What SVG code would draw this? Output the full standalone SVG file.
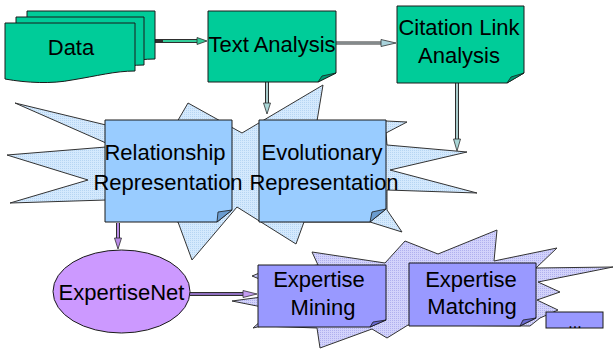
<svg xmlns="http://www.w3.org/2000/svg" width="615" height="349" viewBox="0 0 615 349">
  <defs>
    <pattern id="ditherBlue" width="2" height="2" patternUnits="userSpaceOnUse">
      <rect width="2" height="2" fill="#d4e9fd"/>
      <rect width="1" height="1" fill="#b6d5f3"/>
    </pattern>
    <pattern id="ditherLav" width="2" height="2" patternUnits="userSpaceOnUse">
      <rect width="2" height="2" fill="#d3d3fb"/>
      <rect width="1" height="1" fill="#b0b0ef"/>
    </pattern>
    <style>
      .green { fill: #00cc99; stroke: #1a1a1a; stroke-width: 1; }
      .greenFold { fill: #009a74; stroke: #1a1a1a; stroke-width: 0.8; }
      .blue { fill: #99ccff; stroke: #1a1a1a; stroke-width: 1; }
      .blueFold { fill: #6b9ccf; stroke: #1a1a1a; stroke-width: 0.8; }
      .violet { fill: #9999ff; stroke: #1a1a1a; stroke-width: 1; }
      .violetFold { fill: #6b6bd0; stroke: #1a1a1a; stroke-width: 0.8; }
      .burstBlue { fill: url(#ditherBlue); stroke: #333; stroke-width: 1; }
      .burstLav { fill: url(#ditherLav); stroke: #333; stroke-width: 1; }
      .label { font-family: "Liberation Sans", Arial, sans-serif; font-size: 22px; fill: #000; text-anchor: middle; }
      .shaftOut { stroke: #2e2e2e; stroke-width: 4; fill: none; }
      .head { stroke: #2e2e2e; stroke-width: 0.8; }
    </style>
  </defs>

  <!-- background bursts -->
  <g id="burst-representation">
    <polygon class="burstBlue" points="15,103 106,125 177,125 177,122 188,103 242,133 323,85 317,121 386,121 407,122 386,133 387,145 467,152 390,170 477,193 387,190 387,210 402,232 370,222 304,222 296,244 237,207 192,260 178,222 106,200 10,203 88,180 7,155 106,147 110,145 106,143"/>
  </g>
  <g id="burst-expertise">
    <polygon class="burstLav" points="252,276 262,272 318,265 312,252 385,263 405,241 438,254 497,230 494,261 557,248 536,268 613,267 538,282 560,292 537,300 558,310 540,318 530,326 408,325 387,338 372,329 320,348 317,328 262,326 253,328 262,320 262,307 232,301 262,297 262,280"/>
  </g>

  <!-- connectors -->
  <g id="connectors">
    <!-- Data -> Text Analysis -->
    <line class="shaftOut" x1="155" y1="41" x2="201" y2="41"/>
    <line x1="163" y1="41" x2="201" y2="41" stroke="#33cc99" stroke-width="2"/>
    <polygon class="head" points="197,37.5 207,41 197,44.5" fill="#33cc99"/>
    <!-- Text Analysis -> Citation Link Analysis -->
    <line class="shaftOut" x1="336" y1="43" x2="384" y2="43" style="stroke-width:3"/>
    <line x1="336" y1="43" x2="384" y2="43" stroke="#d9e6ea" stroke-width="1"/>
    <polygon class="head" points="381,39.5 396,43 381,46.5" fill="#a9d3dc"/>
    <!-- Text Analysis -> Evolutionary Representation -->
    <line class="shaftOut" x1="267" y1="82" x2="267" y2="106"/>
    <line x1="267" y1="82" x2="267" y2="106" stroke="#a9cccc" stroke-width="2"/>
    <polygon class="head" points="263.5,103 267,114 270.5,103" fill="#a9d6d6"/>
    <!-- Citation Link Analysis -> Evolutionary Representation -->
    <line class="shaftOut" x1="457" y1="83" x2="457" y2="143"/>
    <line x1="457" y1="83" x2="457" y2="143" stroke="#a9cccc" stroke-width="2"/>
    <polygon class="head" points="453.5,139 457,151 460.5,139" fill="#a9d6d6"/>
    <!-- Relationship Representation -> ExpertiseNet -->
    <line class="shaftOut" x1="118" y1="223" x2="118" y2="241"/>
    <line x1="118" y1="223" x2="118" y2="241" stroke="#b88be6" stroke-width="2"/>
    <polygon class="head" points="114.5,238 118,249 121.5,238" fill="#b88be6"/>
    <!-- ExpertiseNet -> Expertise Mining -->
    <line class="shaftOut" x1="190" y1="294" x2="248" y2="294"/>
    <line x1="190" y1="294" x2="248" y2="294" stroke="#8f6fbf" stroke-width="2"/>
    <polygon class="head" points="243,290.5 257,294 243,297.5" fill="#c49cf0"/>
  </g>

  <!-- Data: stacked documents -->
  <g id="data">
    <path class="green" d="M27,11 H155 V59 C135,59 117,64 92,68 C72,72 47,71 27,67 Z"/>
    <path class="green" d="M16,17 H144 V65 C124,65 106,70 81,74 C61,78 36,77 16,73 Z"/>
    <path class="green" d="M5,23 H135 V71 C115,71 97,76 72,80 C52,84 27,83 5,79 Z"/>
    <text class="label" x="71" y="55">Data</text>
  </g>

  <g id="text-analysis">
    <path class="green" d="M208,11 H336 V73 L318,82 H208 Z"/>
    <polygon class="greenFold" points="318,82 322,76 336,73"/>
    <text class="label" x="272" y="52">Text Analysis</text>
  </g>

  <g id="citation-link-analysis">
    <path class="green" d="M397,6 H524 V73 L507,83 H397 Z"/>
    <polygon class="greenFold" points="507,83 511,77 524,73"/>
    <text class="label" x="459" y="35">Citation Link</text>
    <text class="label" x="459" y="63">Analysis</text>
  </g>

  <g id="relationship-representation">
    <path class="blue" d="M105,120 H232 V210 L217,222 H105 Z"/>
    <polygon class="blueFold" points="217,222 218,212 232,210"/>
    <text class="label" x="165" y="160">Relationship</text>
    <text class="label" x="168" y="190">Representation</text>
  </g>

  <g id="evolutionary-representation">
    <path class="blue" d="M259,120 H386 V209 L370,222 H259 Z"/>
    <polygon class="blueFold" points="370,222 372,212 386,209"/>
    <text class="label" x="322" y="160">Evolutionary</text>
    <text class="label" x="324" y="190">Representation</text>
  </g>

  <g id="expertisenet">
    <ellipse cx="121.5" cy="291.5" rx="68.5" ry="41.5" fill="#cc99ff" stroke="#1a1a1a" stroke-width="1"/>
    <text class="label" x="121.5" y="300">ExpertiseNet</text>
  </g>

  <g id="expertise-mining">
    <path class="violet" d="M258,265 H386 V320 L370,327 H258 Z"/>
    <polygon class="violetFold" points="370,327 373,322 386,320"/>
    <text class="label" x="319" y="287">Expertise</text>
    <text class="label" x="323" y="315">Mining</text>
  </g>

  <g id="expertise-matching">
    <path class="violet" d="M409,263 H536 V318 L520,326 H409 Z"/>
    <polygon class="violetFold" points="520,326 523,320 536,318"/>
    <text class="label" x="471" y="287">Expertise</text>
    <text class="label" x="472" y="314">Matching</text>
  </g>

  <g id="more">
    <rect class="violet" x="546" y="312" width="57" height="16"/>
    <text class="label" x="575" y="328" style="font-size:16px">...</text>
  </g>
</svg>
